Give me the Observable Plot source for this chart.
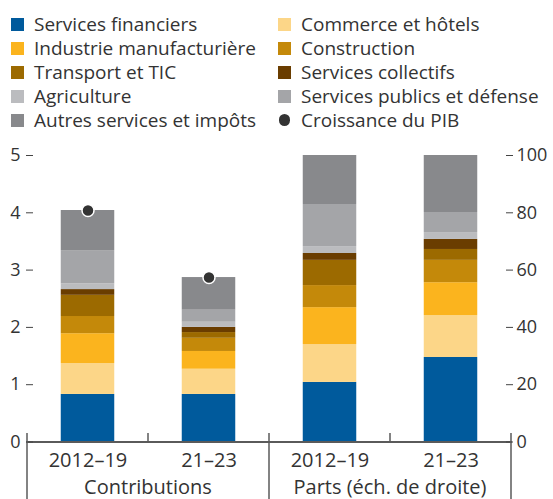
<!DOCTYPE html>
<html><head><meta charset="utf-8">
<script src="https://cdn.jsdelivr.net/npm/d3@7"></script>
<script src="https://cdn.jsdelivr.net/npm/@observablehq/plot@0.6"></script>
<style>
body{margin:0;background:#fff;font-family:"Open Sans",sans-serif;color:#333;}
#wrap{position:relative;width:553px;height:499px;overflow:hidden;}
#legend{position:absolute;left:0;top:0;width:553px;height:140px;}
.item{position:absolute;display:flex;align-items:center;height:24px;font-size:19px;line-height:1;white-space:nowrap;color:#333;}
.sw{width:13px;height:13px;margin-right:10px;flex:none;}
.dotsw{width:11.5px;height:11.5px;border-radius:50%;margin-left:0.75px;margin-right:10.75px;}
#chart{position:absolute;left:0;top:140px;}
</style></head>
<body>
<div id="wrap">
  <div id="legend"></div>
  <div id="chart"></div>
</div>
<script>
// ---- data ----
const sectors = ["Services financiers","Commerce et hôtels","Industrie manufacturière","Construction","Transport et TIC","Services collectifs","Agriculture","Services publics et défense","Autres services et impôts"];
const sectorColors = ["#005a9c","#fcd688","#fbb41e","#c4890a","#9c6a00","#6a3d00","#bbbcbf","#a4a5a8","#88898c"];
const gdpLabel = "Croissance du PIB";
const gdpColor = "#333333";
const periods = ["2012–19","21–23"];
const groups = ["Contributions","Parts (éch. de droite)"];
const contrib2012 = [0.83,0.54,0.52,0.30,0.37,0.10,0.10,0.58,0.70];
const contrib2123 = [0.83,0.44,0.31,0.23,0.10,0.09,0.09,0.21,0.57];
const share2012 = [20.8,13.2,12.9,7.7,8.8,2.4,2.4,14.7,17.1];
const share2123 = [29.5,14.6,11.5,7.8,3.8,3.5,2.4,7.0,19.9];
const gdpGrowth = [4.04,2.87];
const leftTicks = [0,1,2,3,4,5];
const rightTicks = [0,20,40,60,80,100];

// ---- legend ----
const legend = document.getElementById("legend");
const legendItems = sectors.map((s,i)=>({label:s,color:sectorColors[i],dot:false})).concat([{label:gdpLabel,color:gdpColor,dot:true}]);
legendItems.forEach((it,i)=>{
  const row = Math.floor(i/2), col = i%2;
  const div = document.createElement("div");
  div.className = "item";
  div.style.left = (col===0?11:278)+"px";
  div.style.top = (12 + row*24)+"px";
  const sw = document.createElement("span");
  sw.className = it.dot ? "sw dotsw" : "sw";
  sw.style.background = it.color;
  const tx = document.createElement("span");
  tx.textContent = it.label;
  div.appendChild(sw); div.appendChild(tx);
  legend.appendChild(div);
});

// ---- chart ----
const ratio = rightTicks[rightTicks.length-1]/leftTicks[leftTicks.length-1];
const keys = groups.flatMap(g => periods.map(p => g+"|"+p));
const tables = [[contrib2012,contrib2123],[share2012,share2123]];
const rows = [];
groups.forEach((g,gi)=>periods.forEach((p,pi)=>sectors.forEach((s,si)=>{
  rows.push({key:g+"|"+p, group:gi, sector:s, value:tables[gi][pi][si]});
})));
const dots = periods.map((p,i)=>({key:groups[0]+"|"+p, value:gdpGrowth[i]}));

const chart = Plot.plot({
  width:553, height:370,
  marginLeft:33, marginRight:48, marginTop:15, marginBottom:68.5,
  x:{type:"band", domain:keys, range:[26,512], padding:0},
  y:{domain:[0,5], range:[301.5,15]},
  color:{domain:sectors, range:sectorColors},
  style:{fontFamily:"Open Sans", color:"#333", background:"transparent", overflow:"visible"},
  marks:[
    Plot.barY(rows,{x:"key", y:d=>d.group===1?d.value/ratio:d.value, fill:"sector", insetLeft:33.75, insetRight:33.75}),
    Plot.ruleY([0],{stroke:"#5a5a5a", strokeWidth:2, insetLeft:-7, insetRight:-7}),
    Plot.dot(dots,{x:"key", y:"value", r:6, fill:gdpColor, stroke:"white", strokeWidth:1.5}),
    Plot.axisY({anchor:"left", ticks:leftTicks, tickFormat:d=>String(d), tickSize:7, tickPadding:6, fontSize:18, stroke:"#444", label:null}),
    Plot.axisY({anchor:"right", ticks:rightTicks.map(v=>v/ratio), tickFormat:d=>String(Math.round(d*ratio)), tickSize:7, tickPadding:4, fontSize:18, stroke:"#444", label:null}),
    Plot.axisX({anchor:"bottom", tickSize:0, tickPadding:11, tickFormat:k=>k.split("|")[1], fontSize:20, label:null})
  ]
});
document.getElementById("chart").appendChild(chart);

// separators and group labels, positioned through the chart's scales
const xs = chart.scale("x"), ys = chart.scale("y");
const y0 = ys.apply(0);
const sel = d3.select(chart);
const sep = sel.append("g").attr("stroke","#5a5a5a").attr("stroke-width",1.5);
groups.forEach((g,gi)=>{
  const gk = keys.filter(k=>k.startsWith(g+"|"));
  const start = xs.apply(gk[0]);
  const end = xs.apply(gk[gk.length-1]) + xs.bandwidth;
  sep.append("line").attr("x1",start).attr("x2",start).attr("y1",y0-8.5).attr("y2",370);
  if (gi===groups.length-1) sep.append("line").attr("x1",end).attr("x2",end).attr("y1",y0-8.5).attr("y2",370);
  gk.slice(1).forEach(k=>{
    const x = xs.apply(k);
    sep.append("line").attr("x1",x).attr("x2",x).attr("y1",y0-8.5).attr("y2",y0);
  });
  sel.append("text").attr("x",(start+end)/2).attr("y",y0+52).attr("text-anchor","middle")
    .attr("font-family","Open Sans").attr("font-size",20).attr("fill","#333").text(g);
});
</script>
</body></html>
